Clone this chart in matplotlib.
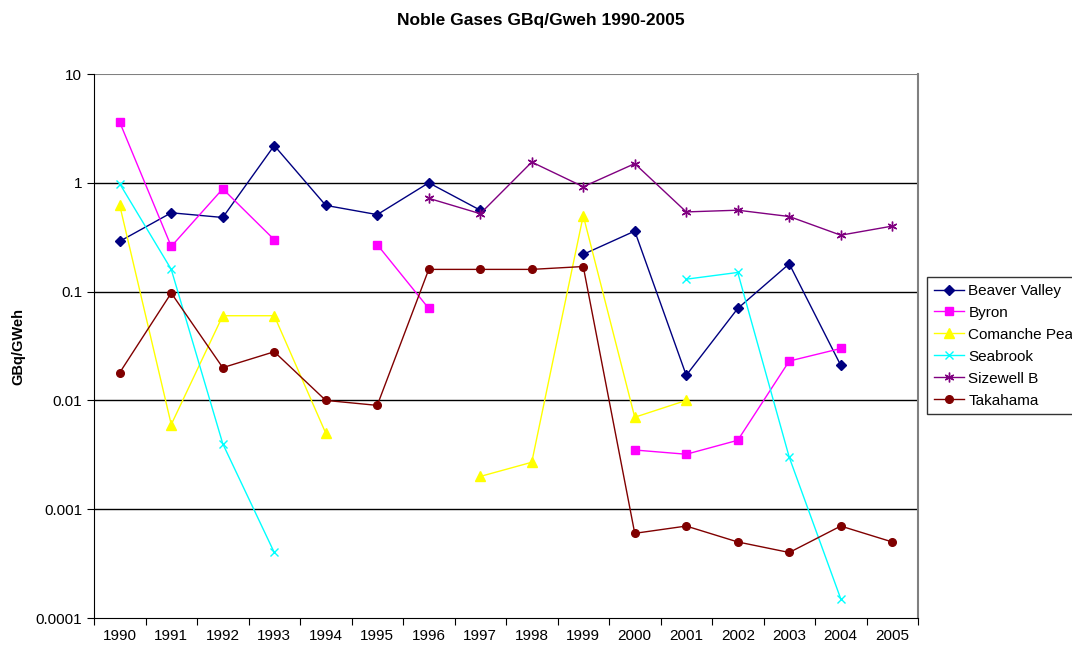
import numpy as np
import matplotlib
matplotlib.use("Agg")
import matplotlib.pyplot as plt

plt.rcParams['font.family'] = ['Liberation Sans', 'DejaVu Sans']

nan = np.nan
years = [str(y) for y in range(1990, 2006)]

beaver_valley = [0.29, 0.53, 0.48, 2.2, 0.62, 0.51, 1.0, 0.56, nan, 0.22, 0.36, 0.017, 0.07, 0.18, 0.021, nan]
byron = [3.6, 0.26, 0.88, 0.30, nan, 0.27, 0.07, nan, nan, nan, 0.0035, 0.0032, 0.0043, 0.023, 0.030, nan]
comanche_peak = [0.62, 0.006, 0.06, 0.06, 0.005, nan, nan, 0.002, 0.0027, 0.5, 0.007, 0.01, nan, nan, nan, nan]
seabrook = [0.98, 0.16, 0.004, 0.0004, nan, nan, nan, nan, nan, nan, nan, 0.13, 0.15, 0.003, 0.00015, nan]
sizewell_b = [nan, nan, nan, nan, nan, nan, 0.72, 0.52, 1.55, 0.92, 1.5, 0.54, 0.56, 0.49, 0.33, 0.40]
takahama = [0.018, 0.097, 0.020, 0.028, 0.010, 0.009, 0.16, 0.16, 0.16, 0.17, 0.0006, 0.0007, 0.0005, 0.0004, 0.0007, 0.0005]

series = [
    ("Beaver Valley", beaver_valley, "#000080", "D", 5),
    ("Byron", byron, "#FF00FF", "s", 5.5),
    ("Comanche Peak", comanche_peak, "#FFFF00", "^", 6.5),
    ("Seabrook", seabrook, "#00FFFF", "x", 6),
    ("Sizewell B", sizewell_b, "#800080", (6, 2, 0), 7),
    ("Takahama", takahama, "#800000", "o", 5.5),
]

fig = plt.figure(figsize=(10.72, 6.46), dpi=100)
ax = fig.add_axes([94 / 1072, 1 - 618 / 646, (918 - 94) / 1072, (618 - 74) / 646])

x = np.arange(len(years)) + 0.5
for name, vals, col, mk, ms in series:
    ax.plot(x, vals, color=col, marker=mk, markersize=ms, linewidth=1.0,
            markeredgewidth=1.0, label=name)

ax.set_yscale('log')
ax.set_ylim(0.0001, 10)
ax.set_xlim(0, len(years))
ax.set_yticks([0.0001, 0.001, 0.01, 0.1, 1, 10])
ax.set_yticklabels(["0.0001", "0.001", "0.01", "0.1", "1", "10"])
ax.yaxis.set_minor_locator(matplotlib.ticker.NullLocator())
ax.set_xticks(np.arange(len(years) + 1))
ax.set_xticklabels([])
ax.set_xticks(x, minor=True)
ax.set_xticklabels(years, minor=True)
ax.tick_params(axis='x', which='minor', length=0, labelsize=11, pad=8)
ax.tick_params(axis='x', which='major', length=5, direction='out')
ax.tick_params(axis='y', length=5, labelsize=11)

for v in [0.001, 0.01, 0.1, 1]:
    ax.axhline(v, color='black', linewidth=1, zorder=0)
ax.axhline(10, color='#808080', linewidth=1.5, zorder=0)

ax.spines['top'].set_visible(False)
ax.spines['right'].set_color('#808080')
ax.spines['right'].set_linewidth(1.5)

ax.set_ylabel("GBq/GWeh", fontsize=10.5, fontweight='bold', labelpad=7)
fig.text(541 / 1072, 1 - 21 / 646, "Noble Gases GBq/Gweh 1990-2005", ha='center', va='center',
         fontsize=12.5, fontweight='bold')

leg = fig.legend(loc='upper left', bbox_to_anchor=(927 / 1072, 1 - 277 / 646),
                 borderaxespad=0, fontsize=11, frameon=True, fancybox=False, edgecolor='black',
                 handlelength=2.0, labelspacing=0.52, borderpad=0.45, handletextpad=0.25)
leg.get_frame().set_linewidth(1)

fig.savefig("out.png", dpi=100)
